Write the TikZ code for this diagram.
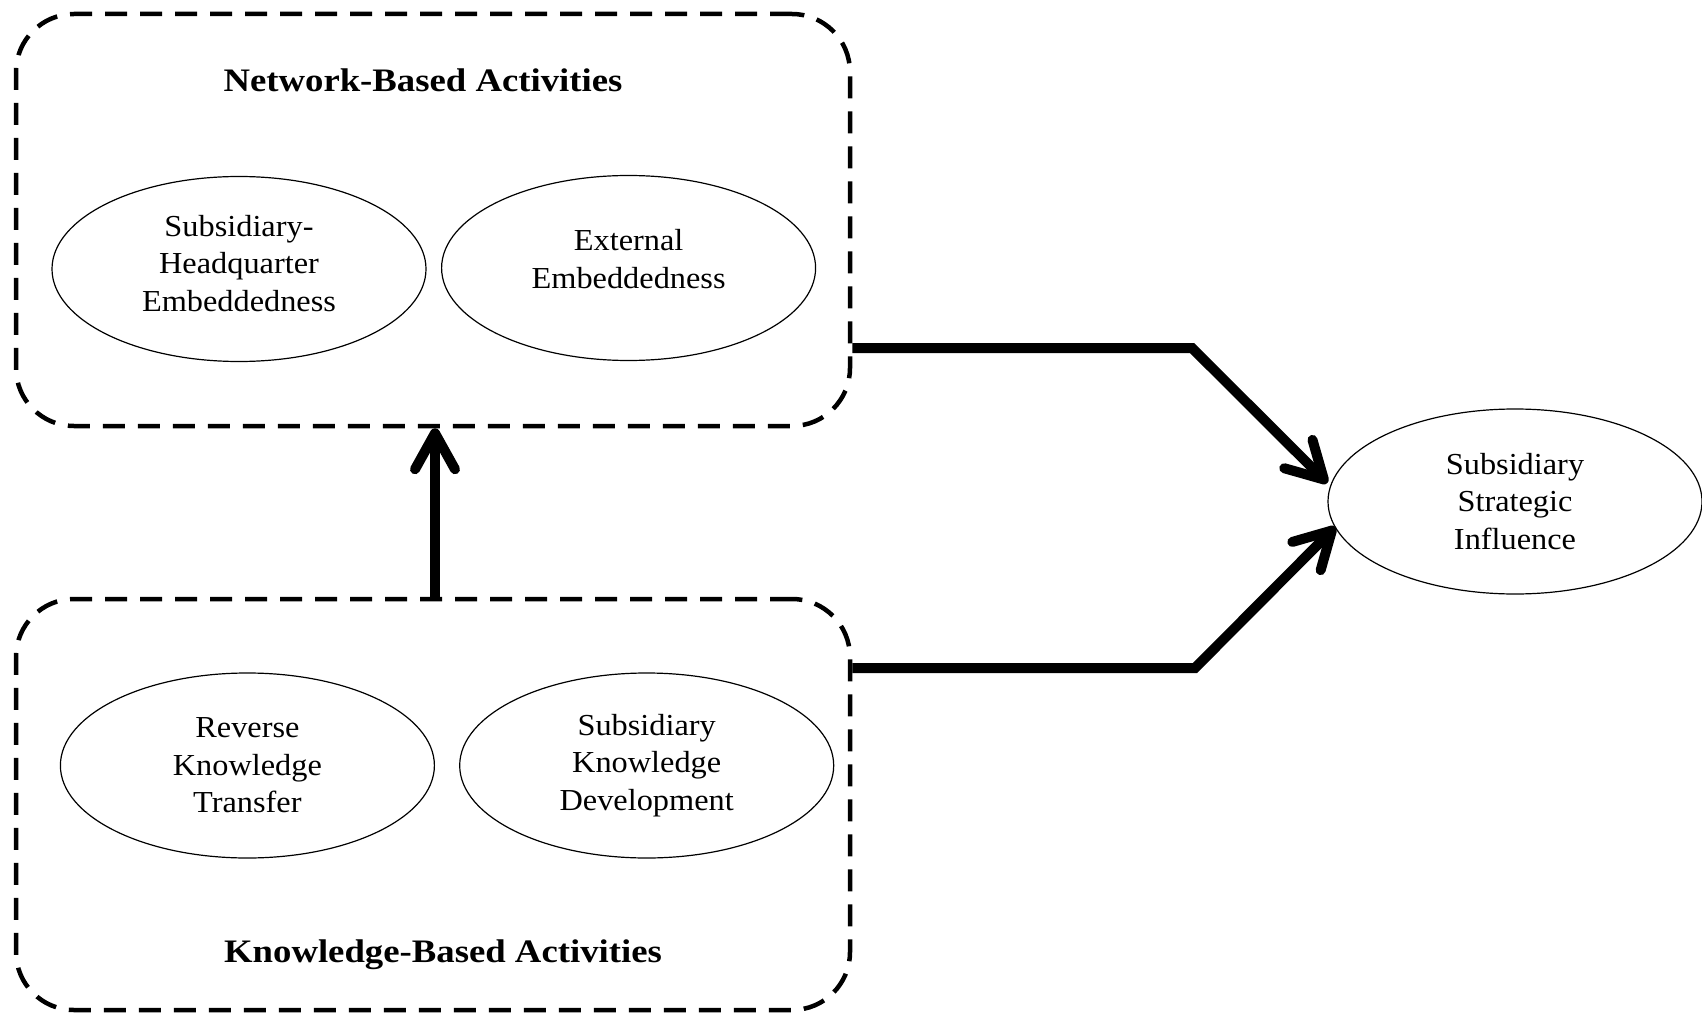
\documentclass[tikz,border=0pt]{standalone}
\usepackage{fontspec}
\usepackage{graphicx}
\setmainfont{Liberation Serif}
\newfontfamily\ellfont[FakeStretch=1.06]{Liberation Serif}
\newfontfamily\titlefont[FakeStretch=1.12]{Liberation Serif}
\usetikzlibrary{shapes.geometric,arrows.meta}
\begin{document}
\begin{tikzpicture}[x=1pt,y=-1pt,
  groupbox/.style={draw, line width=4.5pt, dash pattern=on 22pt off 13pt, rounded corners=58pt,
    minimum width=834pt, minimum height=412pt, inner sep=0pt},
  ell/.style={draw, ellipse, line width=1.2pt, minimum width=374pt, minimum height=185pt,
    inner sep=0pt, align=center, font=\ellfont\fontsize{30.5}{37.5}\selectfont},
  ttl/.style={font=\titlefont\bfseries\fontsize{32.8}{38}\selectfont, anchor=base, inner sep=0pt},
  conn/.style={line width=10pt, -{Straight Barb[length=36pt,width=40pt,line width=0pt 1,round]}}
]
\useasboundingbox (0,0) rectangle (1702,1016);

% group boxes
\node[groupbox] (netbox) at (433,220) {};
\node[groupbox, minimum height=411pt] (knowbox) at (433,804.5) {};

% titles
\node[ttl] (nettitle) at (423,92) {Network-Based Activities};
\node[ttl] (knowtitle) at (443,962) {Knowledge-Based Activities};

% ellipses
\node[ell, text depth=12pt] (she) at (239,269) {Subsidiary-\\Headquarter\\Embeddedness};
\node[ell, text depth=18pt] (ext) at (628.6,268) {External\\Embeddedness};
\node[ell] (rkt) at (247.4,765.5) {Reverse\\Knowledge\\Transfer};
\node[ell] (skd) at (646.7,765.5) {Subsidiary\\Knowledge\\Development};
\node[ell] (ssi) at (1515,501.5) {Subsidiary\\Strategic\\Influence};

% connectors
\draw[conn] (knowbox.north -| 435,0) -- (netbox.south -| 435,0);
\draw[conn] (netbox.east |- 0,348) -- (1192,348) -- ([yshift=18.5pt]ssi.west);
\draw[conn] (knowbox.east |- 0,668) -- (1195,668) -- ([xshift=8pt,yshift=-25.5pt]ssi.west);
\end{tikzpicture}
\end{document}
